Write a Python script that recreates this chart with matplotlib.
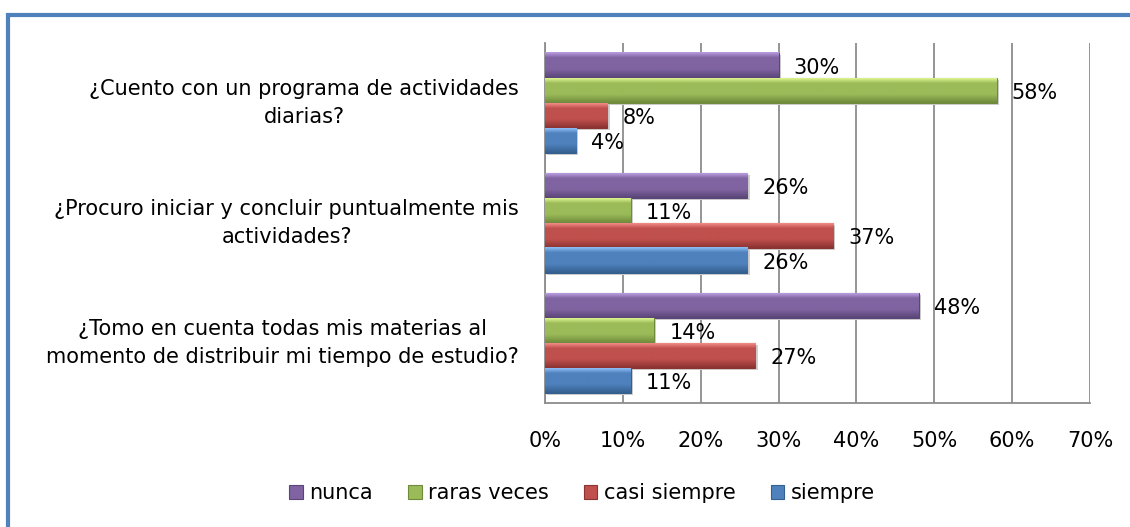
import numpy as np
import matplotlib
matplotlib.use('Agg')
import matplotlib.pyplot as plt
from matplotlib.colors import LinearSegmentedColormap
from matplotlib.patches import Rectangle
import matplotlib.transforms as mtransforms

plt.rcParams['font.family'] = ['DejaVu Sans']

preguntas = ['¿Tomo en cuenta todas mis materias al\nmomento de distribuir mi tiempo de estudio?',
             '¿Procuro iniciar y concluir puntualmente mis\nactividades?',
             '¿Cuento con un programa de actividades\ndiarias?']
series = ['nunca', 'raras veces', 'casi siempre', 'siempre']
nunca = [48, 26, 30]
raras_veces = [14, 11, 58]
casi_siempre = [27, 37, 8]
siempre = [11, 26, 4]
valores = [nunca, raras_veces, casi_siempre, siempre]
xticks = [0, 10, 20, 30, 40, 50, 60, 70]

# base, claro (arriba), oscuro (abajo)
cores = [('#8064A2', '#b99de0', '#5a4578'),
         ('#9BBB59', '#dcf58e', '#6f8a3a'),
         ('#C0504D', '#f28b88', '#8a3331'),
         ('#4F81BD', '#8cbdf5', '#34608f')]

fs = 15

fig = plt.figure(figsize=(11.3, 5.27), dpi=100)
ax = fig.add_axes([545/1130, 1-403/527, 545/1130, 360/527])

h = 25/120
offs = [1.5*h, 0.5*h, -0.5*h, -1.5*h]
ypos = np.arange(len(preguntas))

for j, (nome, vals) in enumerate(zip(series, valores)):
    base, claro, escuro = cores[j]
    cmap = LinearSegmentedColormap.from_list(nome, [(0, escuro), (0.35, base), (0.8, base), (1, claro)])
    grad = np.linspace(0, 1, 50).reshape(-1, 1)
    barras = ax.barh(ypos + offs[j], vals, height=h, color=base, label=nome,
                     edgecolor=escuro, linewidth=0.8, zorder=3)
    for b, v in zip(barras, vals):
        y0 = b.get_y()
        # sombra
        ax.add_patch(Rectangle((0.3, y0 - 0.02), v, h, color='#d0d0d0', zorder=2, lw=0))
        ax.imshow(grad, cmap=cmap, extent=[0, v, y0, y0 + h], origin='lower',
                  aspect='auto', zorder=3.5, interpolation='bilinear')
        ax.annotate(f'{v}%', (v, y0 + h/2), xytext=(11, -2), textcoords='offset points',
                    va='center', ha='left', fontsize=fs, color='black', zorder=5)

ax.set_xlim(0, 70)
ax.set_ylim(-0.5, 2.5)
ax.set_xticks(xticks)
ax.set_xticklabels([f'{t}%' for t in xticks], fontsize=fs)
ax.set_yticks(ypos)
ax.set_yticklabels([])
trans = mtransforms.blended_transform_factory(ax.transAxes, ax.transData)
trans = trans + mtransforms.ScaledTranslation(-26/100, 0, fig.dpi_scale_trans)
for y, p in zip(ypos, preguntas):
    ax.text(0, y, p, transform=trans, ha='right', va='center', multialignment='center',
            fontsize=fs, linespacing=1.45)
ax.tick_params(axis='both', length=0)
ax.tick_params(axis='x', pad=20)
ax.grid(axis='x', color='#8c8c8c', linewidth=1.3, zorder=0)
ax.set_axisbelow(True)
for s in ['top', 'right']:
    ax.spines[s].set_visible(False)
for s in ['left', 'bottom']:
    ax.spines[s].set_color('#8c8c8c')
    ax.spines[s].set_linewidth(1.3)

fig.legend(*ax.get_legend_handles_labels(), loc='center', bbox_to_anchor=(582/1130, 1-493/527),
           ncol=4, frameon=False, fontsize=fs, handlelength=0.65, handleheight=0.65,
           handletextpad=0.3, columnspacing=1.7)

fig.patches.append(Rectangle((7.5/1130, -0.1), 1.2, 1 - 14.5/527 + 0.1, transform=fig.transFigure,
                             fill=False, edgecolor='#4F81BD', linewidth=3, clip_on=False))

fig.savefig('out.png', dpi=100)
